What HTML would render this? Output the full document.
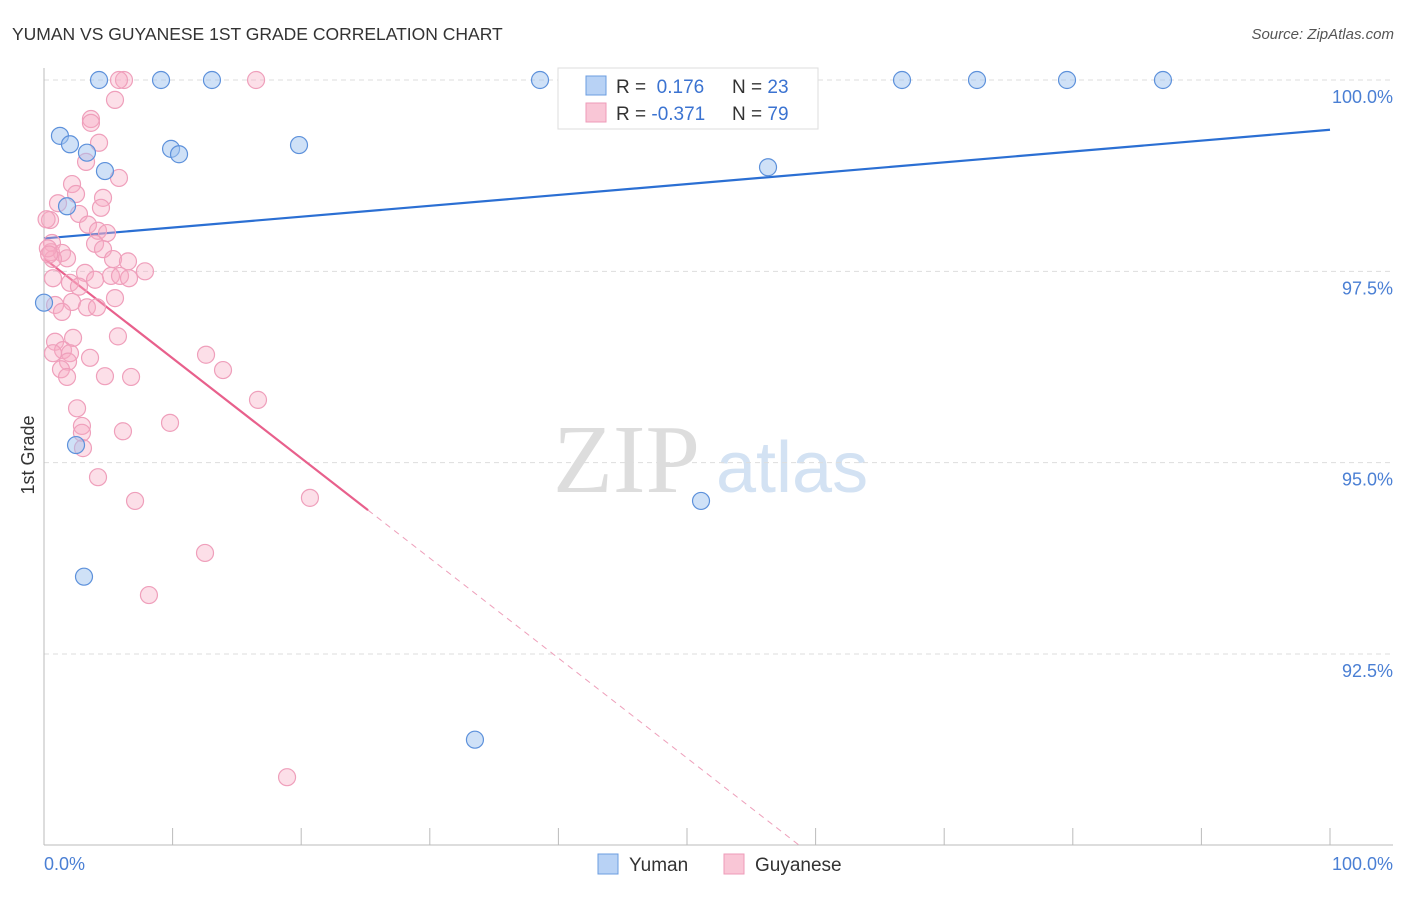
<!DOCTYPE html>
<html><head><meta charset="utf-8"><style>
body{margin:0;background:#fff;font-family:"Liberation Sans",sans-serif;}
svg text{font-family:"Liberation Sans",sans-serif;}
</style></head><body>
<svg width="1406" height="892" id="chart">
<text x="12" y="40" font-size="17.5" fill="#333">YUMAN VS GUYANESE 1ST GRADE CORRELATION CHART</text>
<text x="1394" y="39" font-size="15" fill="#555" font-style="italic" text-anchor="end">Source: ZipAtlas.com</text>
<g>
<text x="553" y="492" font-size="98" fill="#ddd" font-family="Liberation Serif" style="font-family:'Liberation Serif',serif">ZIP</text>
<text x="716" y="492" font-size="72" fill="#d3e2f3">atlas</text>
</g>
<g id="grid"></g><g id="axes"></g><g id="lines"></g><g id="pts"></g>
<text transform="translate(34,455) rotate(-90)" font-size="18" fill="#333" text-anchor="middle">1st Grade</text>
<g>
<rect x="558" y="68" width="260" height="61" fill="#fff" stroke="#ddd"/>
<rect x="586" y="76" width="20" height="19" fill="#b8d2f5" stroke="#6b9de0"/>
<rect x="586" y="103" width="20" height="19" fill="#f9c6d6" stroke="#ee9bb8"/>
<text x="616" y="93" font-size="19" fill="#333">R = <tspan fill="#3b73d1">&#160;0.176</tspan><tspan x="732">N = </tspan><tspan fill="#3b73d1">23</tspan></text>
<text x="616" y="120" font-size="19" fill="#333">R = <tspan fill="#3b73d1">-0.371</tspan><tspan x="732">N = </tspan><tspan fill="#3b73d1">79</tspan></text>
</g>
<g>
<rect x="598" y="854" width="20" height="20" fill="#b8d2f5" stroke="#6b9de0"/>
<text x="629" y="871" font-size="19" fill="#333">Yuman</text>
<rect x="724" y="854" width="20" height="20" fill="#f9c6d6" stroke="#ee9bb8"/>
<text x="755" y="871" font-size="19" fill="#333">Guyanese</text>
</g>
</svg>
<script>
const yTicks=[100,97.5,95,92.5];
const yTickLabels=["100.0%","97.5%","95.0%","92.5%"];
const xTickLabels=["0.0%","100.0%"];
const yumanX=[4.28,9.10,13.06,38.57,66.72,72.55,79.55,87.01,1.24,2.02,3.34,9.88,10.50,19.83,4.74,56.30,1.79,0,2.49,3.11,51.09,33.51];
const yumanY=[100,100,100,100,100,100,100,100,99.27,99.16,99.05,99.10,99.03,99.15,98.81,98.86,98.35,97.09,95.23,93.51,94.50,91.38];
const guyX=[6.22,5.83,16.49,5.52,3.65,3.65,4.28,3.27,5.83,2.18,2.49,1.09,4.59,4.43,2.72,0.47,3.42,4.20,4.90,3.97,4.59,0.62,0.54,1.40,1.79,0.70,5.37,6.53,7.85,3.19,3.97,5.21,5.91,6.61,0.70,2.02,2.72,5.52,2.18,0.86,1.40,3.34,4.12,5.75,0.86,2.26,1.48,0.70,2.02,1.87,3.58,1.32,1.79,4.74,6.77,12.60,13.92,16.64,2.57,2.95,2.95,3.03,6.14,9.80,4.20,7.08,20.68,12.52,8.16,18.90,0.2,0.3,0.4];
const guyY=[100,100,100,99.74,99.49,99.44,99.18,98.93,98.72,98.64,98.51,98.39,98.46,98.33,98.25,98.17,98.11,98.03,98.00,97.86,97.79,97.87,97.75,97.74,97.67,97.66,97.66,97.63,97.50,97.48,97.39,97.44,97.44,97.41,97.41,97.35,97.30,97.15,97.10,97.06,96.97,97.03,97.03,96.65,96.58,96.63,96.47,96.43,96.43,96.32,96.37,96.22,96.12,96.13,96.12,96.41,96.21,95.82,95.71,95.48,95.39,95.19,95.41,95.52,94.81,94.50,94.54,93.82,93.27,90.89,98.18,97.80,97.72];
const yumanFit=[97.93,99.35];
const guyFit=[97.67,-0.1306];
const NS="http://www.w3.org/2000/svg";
const X=v=>44+v*12.86, Y=v=>80+(100-v)*76.53;
function mk(tag,attrs,parent){const e=document.createElementNS(NS,tag);for(const k in attrs)e.setAttribute(k,attrs[k]);document.getElementById(parent).appendChild(e);return e;}
yTicks.forEach((t,i)=>{
 const g=mk('line',{x1:44,x2:1393,y1:Y(t),y2:Y(t),stroke:'#ddd','stroke-dasharray':'5,4'},'grid');
 
 
 const tx=mk('text',{x:1393,y:Y(t)+23,'font-size':18,fill:'#4a7fd4','text-anchor':'end'},'grid');
 tx.textContent=yTickLabels[i];
 
 
});
const ax=mk('line',{x1:44,x2:1393,y1:845,y2:845,stroke:'#bbb'},'axes');


const ay=mk('line',{x1:44,x2:44,y1:68,y2:845,stroke:'#bbb'},'axes');


for(let i=0;i<=10;i++){const t=mk('line',{x1:X(i*10),x2:X(i*10),y1:828,y2:845,stroke:'#bbb'},'axes');
 
 }
[[0,'start',44],[100,'end',1393]].forEach((d,i)=>{const t=mk('text',{x:d[2],y:870,'font-size':18,fill:'#4a7fd4','text-anchor':d[1]},'axes');t.textContent=xTickLabels[i];
 
 });
guyX.forEach((x,i)=>{const c=mk('circle',{cx:X(x),cy:Y(guyY[i]),r:8.5,fill:'rgba(246,170,195,0.38)',stroke:'#ef9fbb','stroke-width':1.2},'pts');
 
 });
yumanX.forEach((x,i)=>{const c=mk('circle',{cx:X(x),cy:Y(yumanY[i]),r:8.5,fill:'rgba(160,196,240,0.5)',stroke:'#5d91db','stroke-width':1.2},'pts');
 
 });
const bl=mk('line',{x1:X(0),y1:Y(yumanFit[0]),x2:X(100),y2:Y(yumanFit[1]),stroke:'#2b6fd3','stroke-width':2.2},'lines');


const gy=x=>guyFit[0]+guyFit[1]*x;
const xEnd=(90-guyFit[0])/guyFit[1];
const pl=mk('line',{x1:X(0),y1:Y(gy(0)),x2:X(25.2),y2:Y(gy(25.2)),stroke:'#e8608c','stroke-width':2.2},'lines');


const pd=mk('line',{x1:X(25.2),y1:Y(gy(25.2)),x2:X(xEnd),y2:Y(90),stroke:'#eea0bb','stroke-width':1,'stroke-dasharray':'6,5'},'lines');


</script>
</body></html>
